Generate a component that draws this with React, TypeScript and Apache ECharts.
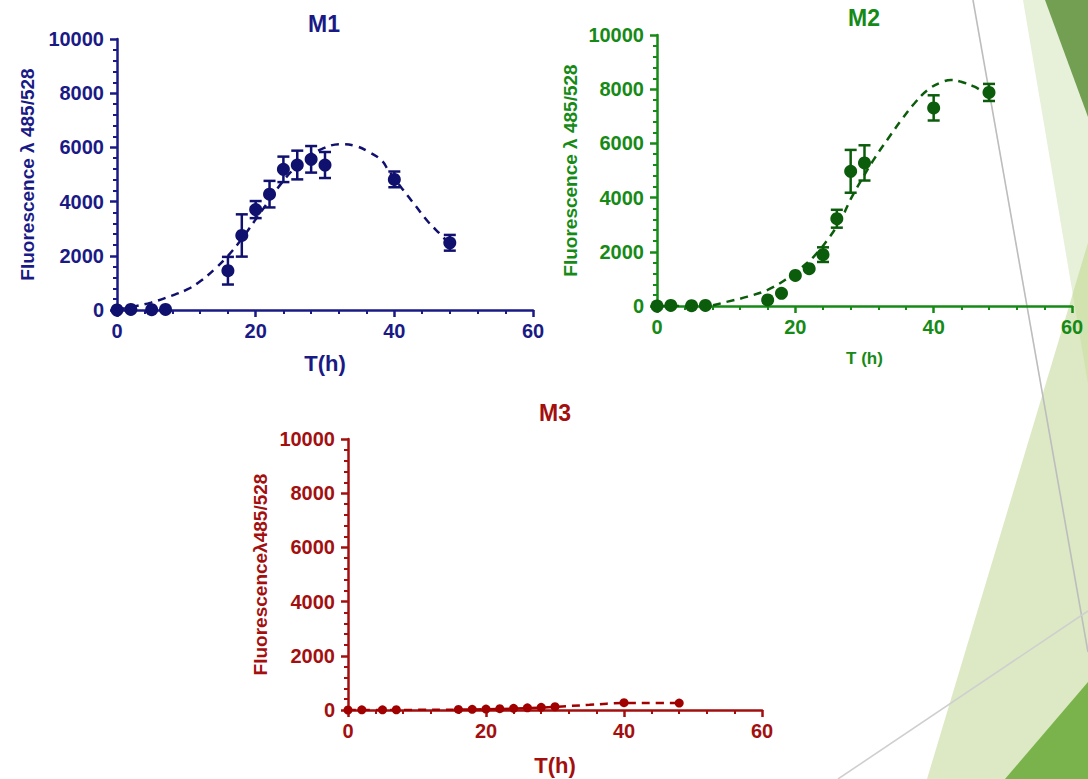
import React, { useEffect, useRef } from "react";
import * as echarts from "echarts";

// ---- data ----
const T_HOURS = [0, 2, 5, 7, 16, 18, 20, 22, 24, 26, 28, 30, 40, 48];

const M1_MEAN = [0, 20, 10, 20, 1450, 2750, 3705, 4275, 5190, 5350, 5560, 5350, 4820, 2480];
const M1_ERR = [0, 0, 0, 0, 510, 780, 315, 490, 470, 530, 490, 480, 290, 290];
const M1_FIT_T = [0, 2.3, 4.9, 7.8, 10.2, 12.1, 14.1, 15.9, 17.9, 19.9, 21.8, 23.7, 25.6, 27.6, 29.5, 32.1, 34.3, 36.2, 38.2, 39.1, 41.1, 43.0, 44.9, 46.8, 47.8];
const M1_FIT_V = [20, 124, 273, 520, 768, 1078, 1512, 1970, 2590, 3308, 3990, 4672, 5229, 5663, 5935, 6121, 6059, 5849, 5514, 5167, 4486, 3866, 3247, 2751, 2466];

const M2_MEAN = [0, 20, 10, 20, 225, 470, 1130, 1375, 1895, 3220, 4970, 5280, 7310, 7880];
const M2_ERR = [0, 0, 0, 0, 0, 0, 0, 0, 270, 330, 790, 650, 465, 315];
const M2_FIT_T = [0, 4, 7.3, 10.2, 13.1, 16, 18.9, 20.8, 22.7, 24.7, 26.6, 28.0, 29.5, 31.4, 33.4, 35.3, 37.2, 39.1, 41.1, 42.5, 43.9, 45.9, 47.8];
const M2_FIT_V = [0, 0, 12, 161, 347, 595, 1028, 1400, 1834, 2454, 3197, 3941, 4622, 5428, 6171, 6853, 7472, 7968, 8253, 8340, 8278, 8092, 7782];

const M3_MEAN = [0, 5, 5, 10, 20, 25, 35, 50, 60, 80, 100, 120, 270, 255];
const M3_FIT_T = [0, 10, 16, 20, 24, 28, 30, 35, 40, 44, 48];
const M3_FIT_V = [0, 5, 15, 30, 50, 90, 115, 190, 260, 262, 255];

const X_TICKS = [0, 20, 40, 60];
const Y_TICKS = [0, 2000, 4000, 6000, 8000, 10000];

const FONT = '"Liberation Sans", Arial, sans-serif';

const C1 = { axis: "#1a1a86", dot: "#10106e" };
const C2 = { axis: "#168a16", dot: "#0b5c0b" };
const C3 = { axis: "#a30f0f", dot: "#a00000" };

const plain = (v: number) => String(v);

function xAxis(gridIndex: number, color: string, name: string, nameSize: number, nameGap: number) {
  return {
    type: "value",
    gridIndex,
    min: X_TICKS[0],
    max: X_TICKS[X_TICKS.length - 1],
    interval: X_TICKS[1] - X_TICKS[0],
    name,
    nameLocation: "middle",
    nameGap,
    nameTextStyle: { color, fontSize: nameSize, fontWeight: "bold", fontFamily: FONT },
    axisLine: { show: true, onZero: false, lineStyle: { color, width: 2.5 } },
    axisTick: { show: true, length: 7, lineStyle: { color, width: 2.5 } },
    minorTick: { show: true, splitNumber: 5, length: 4, lineStyle: { color, width: 2 } },
    splitLine: { show: false },
    minorSplitLine: { show: false },
    axisLabel: { color, fontSize: 20, fontWeight: "bold", fontFamily: FONT, margin: 11, formatter: plain },
  };
}

function yAxis(gridIndex: number, color: string, name: string, nameGap: number) {
  return {
    type: "value",
    gridIndex,
    min: Y_TICKS[0],
    max: Y_TICKS[Y_TICKS.length - 1],
    interval: Y_TICKS[1] - Y_TICKS[0],
    name,
    nameLocation: "middle",
    nameGap,
    nameTextStyle: { color, fontSize: 19, fontWeight: "bold", fontFamily: FONT },
    axisLine: { show: true, onZero: false, lineStyle: { color, width: 2.5 } },
    axisTick: { show: true, length: 7, lineStyle: { color, width: 2.5 } },
    minorTick: { show: true, splitNumber: 5, length: 4, lineStyle: { color, width: 2 } },
    splitLine: { show: false },
    minorSplitLine: { show: false },
    axisLabel: { color, fontSize: 20, fontWeight: "bold", fontFamily: FONT, margin: 13, formatter: plain },
  };
}

function errorSeries(idx: number, mean: number[], err: number[], color: string) {
  const data = T_HOURS.map((t, i) => [t, mean[i] - err[i], mean[i] + err[i]]).filter((_, i) => err[i] > 0);
  return {
    type: "custom",
    xAxisIndex: idx,
    yAxisIndex: idx,
    z: 3,
    clip: false,
    encode: { x: 0, y: [1, 2] },
    data,
    renderItem: (_params: any, api: any) => {
      const x = api.value(0);
      const top = api.coord([x, api.value(2)]);
      const bot = api.coord([x, api.value(1)]);
      const w = 6;
      const style = { stroke: color, lineWidth: 2.5 };
      return {
        type: "group",
        children: [
          { type: "line", shape: { x1: top[0], y1: top[1], x2: bot[0], y2: bot[1] }, style },
          { type: "line", shape: { x1: top[0] - w, y1: top[1], x2: top[0] + w, y2: top[1] }, style },
          { type: "line", shape: { x1: bot[0] - w, y1: bot[1], x2: bot[0] + w, y2: bot[1] }, style },
        ],
      };
    },
  };
}

function fitSeries(idx: number, ts: number[], vs: number[], color: string) {
  return {
    type: "line",
    xAxisIndex: idx,
    yAxisIndex: idx,
    data: ts.map((t, i) => [t, vs[i]]),
    smooth: 0.4,
    showSymbol: false,
    symbol: "none",
    z: 2,
    lineStyle: { color, width: 2.5, type: [8, 6] },
  };
}

function dotSeries(idx: number, mean: number[], color: string, size: number) {
  return {
    type: "scatter",
    xAxisIndex: idx,
    yAxisIndex: idx,
    data: T_HOURS.map((t, i) => [t, mean[i]]),
    symbol: "circle",
    symbolSize: size,
    clip: false,
    z: 4,
    itemStyle: { color, opacity: 1 },
  };
}

export default function App() {
  const ref = useRef<HTMLDivElement>(null);
  useEffect(() => {
    if (!ref.current) return;
    const chart = echarts.init(ref.current, null, { renderer: "svg" });
    const bg = [
      { type: "polygon", z: -5, shape: { points: [[1023, 0], [1088, 0], [1088, 384]] }, style: { fill: "#e7f0d9" } },
      { type: "polygon", z: -5, shape: { points: [[1088, 243], [927, 779], [1088, 779]] }, style: { fill: "#dde9c4" } },
      { type: "polygon", z: -5, shape: { points: [[1088, 243], [1072.7, 294], [1088, 384]] }, style: { fill: "#d2e3b0" } },
      { type: "polygon", z: -5, shape: { points: [[1045, 0], [1088, 0], [1088, 117]] }, style: { fill: "#739f52" } },
      { type: "polygon", z: -5, shape: { points: [[1005, 779], [1088, 682], [1088, 779]] }, style: { fill: "#7ab34b" } },
      { type: "line", z: -4, shape: { x1: 973, y1: 0, x2: 1088, y2: 652 }, style: { stroke: "#bdbdbd", lineWidth: 1.6 } },
      { type: "line", z: -4, shape: { x1: 838, y1: 779, x2: 1088, y2: 611 }, style: { stroke: "#cfcfcf", lineWidth: 1.6 } },
    ];
    const titles = [
      { text: "M1", x: 324, y: 24, color: C1.axis },
      { text: "M2", x: 864, y: 18, color: C2.axis },
      { text: "M3", x: 555, y: 413, color: C3.axis },
    ].map((t) => ({
      type: "text",
      z: 10,
      x: t.x,
      y: t.y,
      style: {
        text: t.text,
        fill: t.color,
        font: `bold 23px ${FONT}`,
        textAlign: "center",
        textVerticalAlign: "middle",
      },
    }));
    chart.setOption({
      animation: false,
      backgroundColor: "#ffffff",
      graphic: [...bg, ...titles],
      grid: [
        { left: 117, top: 39, width: 416, height: 271 },
        { left: 657, top: 35, width: 415, height: 271 },
        { left: 348, top: 439, width: 414, height: 271 },
      ],
      xAxis: [
        xAxis(0, C1.axis, "T(h)", 22, 42),
        xAxis(1, C2.axis, "T (h)", 17, 44),
        xAxis(2, C3.axis, "T(h)", 22, 44),
      ],
      yAxis: [
        yAxis(0, C1.axis, "Fluorescence \u03bb 485/528", 80),
        yAxis(1, C2.axis, "Fluorescence \u03bb 485/528", 77),
        yAxis(2, C3.axis, "Fluorescence\u03bb485/528", 78),
      ],
      series: [
        fitSeries(0, M1_FIT_T, M1_FIT_V, C1.dot),
        errorSeries(0, M1_MEAN, M1_ERR, C1.dot),
        dotSeries(0, M1_MEAN, C1.dot, 13),
        fitSeries(1, M2_FIT_T, M2_FIT_V, C2.dot),
        errorSeries(1, M2_MEAN, M2_ERR, C2.dot),
        dotSeries(1, M2_MEAN, C2.dot, 13),
        fitSeries(2, M3_FIT_T, M3_FIT_V, C3.dot),
        dotSeries(2, M3_MEAN, C3.dot, 9),
      ],
    });
    return () => chart.dispose();
  }, []);
  return (
    <div
      ref={ref}
      style={{ position: "absolute", left: 0, top: 0, width: 1088, height: 779 }}
    />
  );
}
